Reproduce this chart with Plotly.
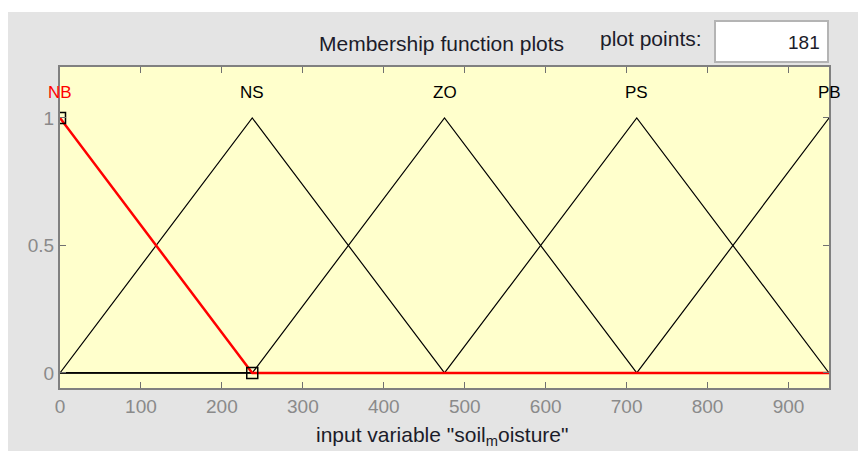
import plotly.graph_objects as go

# Membership function vertices (input variable "soil_moisture", range 0..950)
mf_names = ["NB", "NS", "ZO", "PS", "PB"]
mf_peaks = [0, 237.5, 475, 712.5, 950]
nb_x = [0, 237.5, 950]
nb_y = [1, 0, 0]
ns_x = [0, 237.5, 475, 950]
ns_y = [0, 1, 0, 0]
zo_x = [0, 237.5, 475, 712.5, 950]
zo_y = [0, 0, 1, 0, 0]
ps_x = [0, 475, 712.5, 950]
ps_y = [0, 0, 1, 0]
pb_x = [0, 712.5, 950]
pb_y = [0, 0, 1]
handle_x = [0, 237.5]
handle_y = [1, 0]
x_ticks = [0, 100, 200, 300, 400, 500, 600, 700, 800, 900]
y_ticks = [0, 0.5, 1]
y_tick_text = ["0", "0.5", "1"]

FONT = "Liberation Sans, Arial, sans-serif"
GRAY_BG = "#e4e4e4"
TXT = "#1c1c2a"

# The page body keeps its default 8px margin, so the figure starts at (8, 8).
OFF = 8
FW, FH = 866 - OFF, 451 - OFF
# plot area in page pixels: x 60..829, y 67..388
L, R, T, B = 60 - OFF, 829 - OFF, 67 - OFF, 388 - OFF
W, H = R - L, B - T
def px(x):  # page pixel -> paper
    return (x - OFF - L) / W
def py(y):
    return (B - (y - OFF)) / H

fig = go.Figure()
for xs, ys in [(ns_x, ns_y), (zo_x, zo_y), (ps_x, ps_y), (pb_x, pb_y)]:
    fig.add_trace(go.Scatter(x=xs, y=ys, mode="lines",
                             line=dict(color="black", width=1.2),
                             hoverinfo="skip", showlegend=False))
fig.add_trace(go.Scatter(x=nb_x, y=nb_y, mode="lines",
                         line=dict(color="#ff0000", width=2.5),
                         showlegend=False))
fig.add_trace(go.Scatter(x=handle_x, y=handle_y, mode="markers",
                         marker=dict(symbol="square-open", size=11,
                                     color="black", line=dict(width=1.5)),
                         cliponaxis=True, showlegend=False))

for name, pk in zip(mf_names, mf_peaks):
    fig.add_annotation(x=pk, y=1.10, xref="x", yref="y", text=name,
                       showarrow=False, xanchor="center", yanchor="middle",
                       font=dict(family=FONT, size=17,
                                 color="#ff0000" if name == "NB" else "black"))

shapes = [
    # white strip along the very top (page y 8..12)
    dict(type="rect", xref="paper", yref="paper", x0=-0.2, x1=1.2,
         y0=py(12), y1=py(-20), fillcolor="white", line=dict(width=0)),
    # "plot points" input box
    dict(type="rect", xref="paper", yref="paper", x0=px(715), x1=px(828),
         y0=py(62), y1=py(21), fillcolor="white",
         line=dict(color="#b4b4b4", width=2)),
]

fig.add_annotation(xref="paper", yref="paper", x=px(441), y=py(43),
                   xanchor="center", yanchor="middle",
                   text="Membership function plots", showarrow=False,
                   font=dict(family=FONT, size=21, color=TXT))
fig.add_annotation(xref="paper", yref="paper", x=px(651), y=py(38),
                   xanchor="center", yanchor="middle",
                   text="plot points:", showarrow=False,
                   font=dict(family=FONT, size=21, color=TXT))
fig.add_annotation(xref="paper", yref="paper", x=px(822), y=py(42),
                   xanchor="right", yanchor="middle", text="181",
                   showarrow=False,
                   font=dict(family=FONT, size=19, color=TXT))
fig.add_annotation(xref="paper", yref="paper", x=px(442), y=py(436),
                   xanchor="center", yanchor="middle",
                   text='input variable "soil<sub>m</sub>oisture"',
                   showarrow=False,
                   font=dict(family=FONT, size=21, color=TXT))

fig.update_layout(
    width=FW, height=FH,
    margin=dict(l=L, r=FW - R, t=T, b=FH - B, pad=0),
    paper_bgcolor=GRAY_BG, plot_bgcolor="#ffffcc",
    shapes=shapes, showlegend=False,
    xaxis=dict(range=[0, 950], tickvals=x_ticks, ticks="inside", ticklen=6,
               tickcolor="#707070", showline=True, linecolor="#808080",
               linewidth=2, mirror="ticks", showgrid=False, zeroline=False,
               tickfont=dict(family=FONT, size=19, color="#8a8a8a"),
               fixedrange=True),
    yaxis=dict(range=[-0.059, 1.2], tickvals=y_ticks, ticktext=y_tick_text,
               ticks="inside", ticklen=6, tickcolor="#707070",
               showline=True, linecolor="#808080", linewidth=2,
               mirror="ticks", showgrid=False, zeroline=False,
               tickfont=dict(family=FONT, size=19, color="#8a8a8a"),
               fixedrange=True),
)

fig.write_html("out.html")
